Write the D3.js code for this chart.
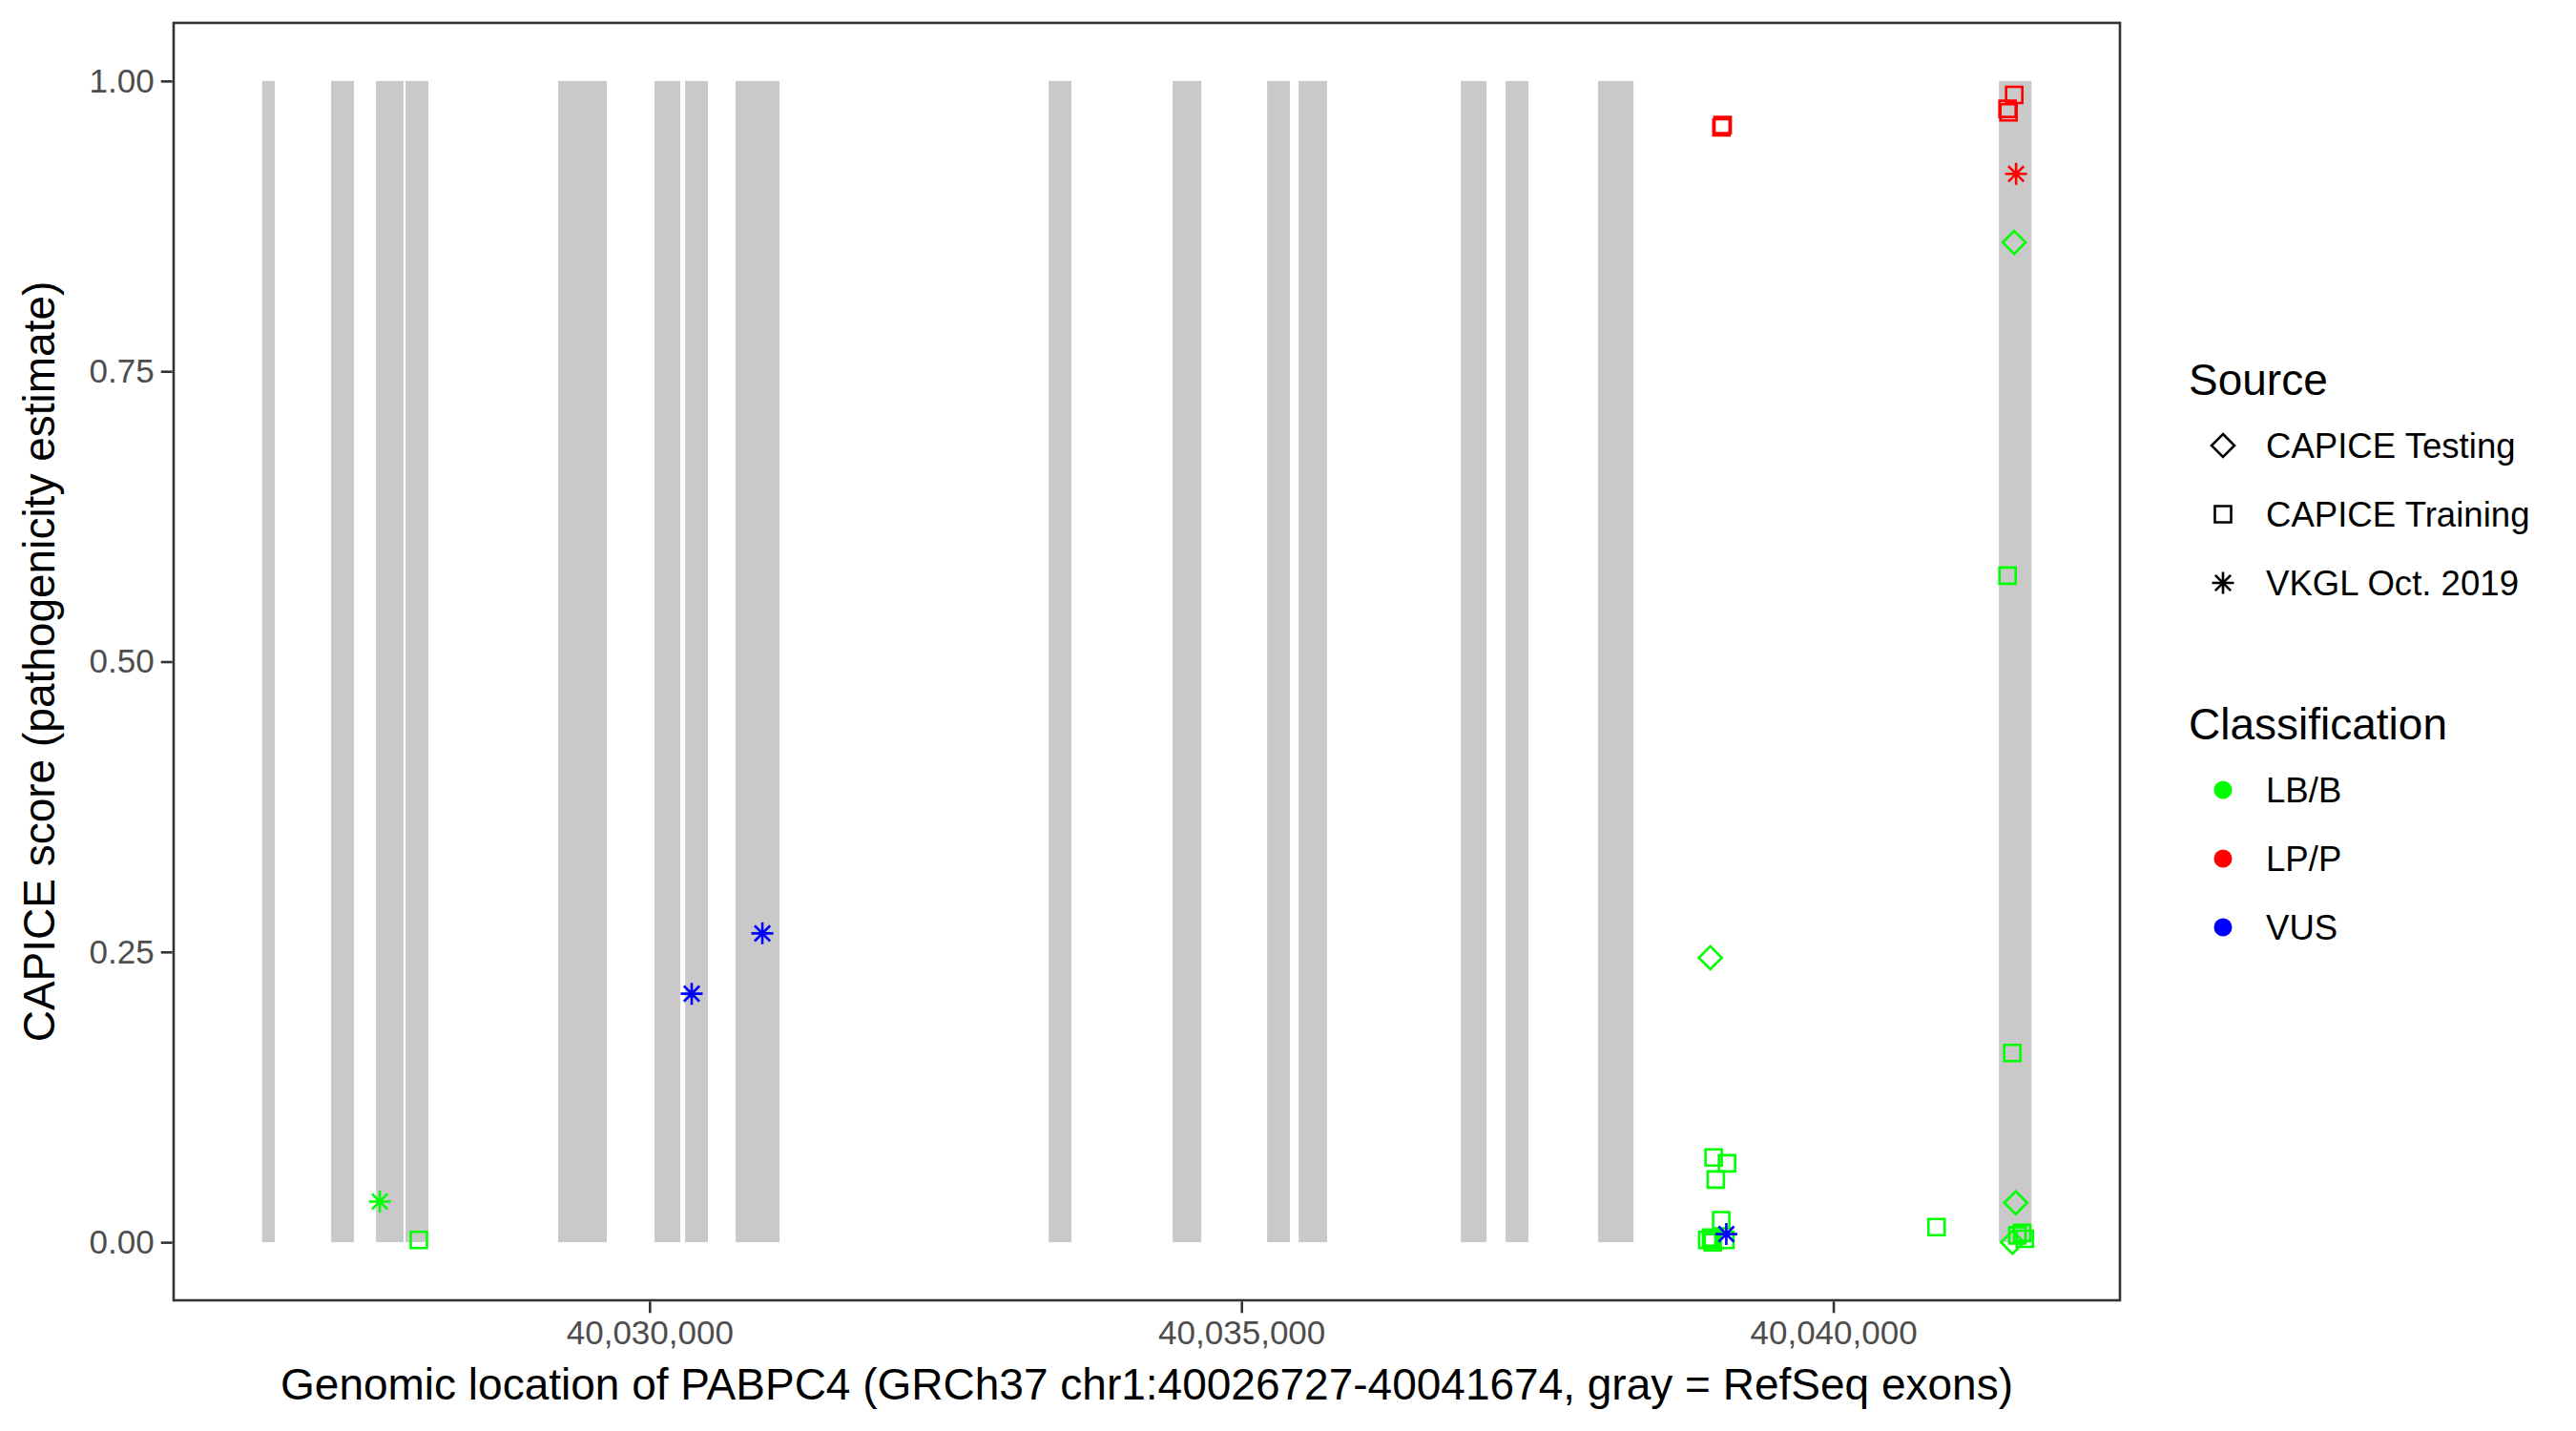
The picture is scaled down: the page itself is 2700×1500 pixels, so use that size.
<!DOCTYPE html>
<html>
<head>
<meta charset="utf-8">
<script src="https://cdn.jsdelivr.net/npm/d3@7"></script>
<style>
  body { margin: 0; background: #fff; }
  text { font-family: "Liberation Sans", Arial, Helvetica, sans-serif; }
</style>
</head>
<body>
<svg id="chart"></svg>
<script>
var width = 2700;
var height = 1500;

// gene + exons (GRCh37 chr1)
var geneStart = 40026727;
var geneEnd = 40041674;
var exonStarts = [40026727, 40027310, 40027689, 40027938, 40029228, 40030042, 40030300, 40030727,
                  40033371, 40034419, 40035217, 40035483, 40036853, 40037232, 40038013, 40041399];
var exonEnds   = [40026834, 40027503, 40027922, 40028132, 40029639, 40030260, 40030493, 40031098,
                  40033564, 40034661, 40035410, 40035724, 40037071, 40037425, 40038312, 40041674];

// variants
var varPos = [40027721, 40028051, 40030356, 40030953,
              40039055, 40039065, 40038961,
              40038989, 40039102, 40039007, 40039053, 40038967, 40038935, 40038981, 40039088, 40039096,
              40040872,
              40041528, 40041472, 40041480, 40041544, 40041528, 40041472, 40041512,
              40041541, 40041514, 40041555, 40041596, 40041618];
var varScore = [0.035, 0.002, 0.214, 0.266,
                0.960, 0.962, 0.245,
                0.073, 0.068, 0.054, 0.019, 0.004, 0.002, 0.000, 0.002, 0.007,
                0.013,
                0.988, 0.976, 0.973, 0.920, 0.861, 0.574, 0.163,
                0.034, 0.000, 0.006, 0.008, 0.003];
var varSource = ["VKGL", "Training", "VKGL", "VKGL",
                 "Training", "Training", "Testing",
                 "Training", "Training", "Training", "Training", "Training", "Training", "Training", "Training", "VKGL",
                 "Training",
                 "Training", "Training", "Training", "VKGL", "Testing", "Training", "Training",
                 "Testing", "Testing", "Training", "Training", "Training"];
var varClass = ["LB/B", "LB/B", "VUS", "VUS",
                "LP/P", "LP/P", "LB/B",
                "LB/B", "LB/B", "LB/B", "LB/B", "LB/B", "LB/B", "LB/B", "LB/B", "VUS",
                "LB/B",
                "LP/P", "LP/P", "LP/P", "LP/P", "LB/B", "LB/B", "LB/B",
                "LB/B", "LB/B", "LB/B", "LB/B", "LB/B"];

var sourceKeys = ["Testing", "Training", "VKGL"];
var sourceLabels = ["CAPICE Testing", "CAPICE Training", "VKGL Oct. 2019"];
var classKeys = ["LB/B", "LP/P", "VUS"];
var classColors = ["#00ff00", "#ff0000", "#0000ff"];
var yTicks = [0, 0.25, 0.5, 0.75, 1];
var xTicks = [40030000, 40035000, 40040000];

var panel = {left: 182, top: 24, right: 2222, bottom: 1363};

var svg = d3.select('#chart')
    .attr('width', width)
    .attr('height', height)

var pad = (geneEnd - geneStart) * 0.05;
var x = d3.scaleLinear()
    .domain([geneStart - pad, geneEnd + pad])
    .range([panel.left, panel.right]);
var y = d3.scaleLinear()
    .domain([-0.05, 1.05])
    .range([panel.bottom, panel.top]);

var color = d3.scaleOrdinal().domain(classKeys).range(classColors);

// shape path for each source (ggplot shapes 5, 0, 8)
function shapePath(src){
    var p = d3.path();
    if (src == "Testing"){
        var r = 12;
        p.moveTo(0, -r); p.lineTo(r, 0); p.lineTo(0, r); p.lineTo(-r, 0); p.closePath();
    }
    else if (src == "Training"){
        var s = 8.5;
        p.rect(-s, -s, 2 * s, 2 * s);
    }
    else {
        var a = 11.5, d = a * 0.7071;
        p.moveTo(-a, 0); p.lineTo(a, 0);
        p.moveTo(0, -a); p.lineTo(0, a);
        p.moveTo(-d, -d); p.lineTo(d, d);
        p.moveTo(-d, d); p.lineTo(d, -d);
    }
    return p.toString();
}

// exons
svg.append('g')
    .selectAll('rect')
    .data(exonStarts)
    .enter()
    .append('rect')
    .attr('x', function(d){ return x(d); })
    .attr('width', function(d, i){ return x(exonEnds[i]) - x(d); })
    .attr('y', y(1))
    .attr('height', y(0) - y(1))
    .style('fill', '#c9c9c9');

// points
svg.append('g')
    .selectAll('path')
    .data(varPos)
    .enter()
    .append('path')
    .attr('transform', function(d, i){ return 'translate(' + x(d) + ',' + y(varScore[i]) + ')'; })
    .attr('d', function(d, i){ return shapePath(varSource[i]); })
    .style('fill', 'none')
    .style('stroke', function(d, i){ return color(varClass[i]); })
    .style('stroke-width', 2.6);

// panel border
svg.append('rect')
    .attr('x', panel.left)
    .attr('y', panel.top)
    .attr('width', panel.right - panel.left)
    .attr('height', panel.bottom - panel.top)
    .style('fill', 'none')
    .style('stroke', '#333333')
    .style('stroke-width', 2.6);

// axes
var yAxis = d3.axisLeft(y).tickValues(yTicks).tickSize(12).tickPadding(7)
    .tickFormat(d3.format('.2f'));
var xAxis = d3.axisBottom(x).tickValues(xTicks).tickSize(12).tickPadding(8)
    .tickFormat(d3.format(','));

var gy = svg.append('g').attr('transform', 'translate(' + (panel.left - 1.3) + ',0)').call(yAxis);
var gx = svg.append('g').attr('transform', 'translate(0,' + (panel.bottom + 1.3) + ')').call(xAxis);
[gy, gx].forEach(function(g){
    g.select('.domain').remove();
    g.selectAll('line').style('stroke', '#333333').style('stroke-width', 2.6);
    g.selectAll('text').style('font-size', '35px').style('fill', '#4d4d4d')
        .style('font-family', '"Liberation Sans", Arial, sans-serif');
});

svg.append('text')
    .attr('x', (panel.left + panel.right) / 2)
    .attr('y', 1467)
    .attr('text-anchor', 'middle')
    .style('font-size', '46px')
    .text('Genomic location of PABPC4 (GRCh37 chr1:40026727-40041674, gray = RefSeq exons)');

svg.append('text')
    .attr('transform', 'translate(57,' + ((panel.top + panel.bottom) / 2) + ') rotate(-90)')
    .attr('text-anchor', 'middle')
    .style('font-size', '46px')
    .text('CAPICE score (pathogenicity estimate)');

// legends
var legX = 2294, keyX = 2330, labX = 2375;

svg.append('text').attr('x', legX).attr('y', 414).style('font-size', '46px').text('Source');
var srcItems = svg.append('g').selectAll('g')
    .data(sourceKeys)
    .enter()
    .append('g')
    .attr('transform', function(d, i){ return 'translate(0,' + (467 + i * 72) + ')'; });
srcItems.append('path')
    .attr('transform', 'translate(' + keyX + ',0)')
    .attr('d', function(d){ return shapePath(d); })
    .style('fill', 'none')
    .style('stroke', 'black')
    .style('stroke-width', 2.6);
srcItems.append('text')
    .attr('x', labX)
    .attr('dy', '0.35em')
    .style('font-size', '36.6px')
    .text(function(d, i){ return sourceLabels[i]; });

svg.append('text').attr('x', legX).attr('y', 775).style('font-size', '46px').text('Classification');
var clsItems = svg.append('g').selectAll('g')
    .data(classKeys)
    .enter()
    .append('g')
    .attr('transform', function(d, i){ return 'translate(0,' + (828 + i * 72) + ')'; });
clsItems.append('circle')
    .attr('cx', keyX)
    .attr('r', 9.5)
    .style('fill', function(d){ return color(d); });
clsItems.append('text')
    .attr('x', labX)
    .attr('dy', '0.35em')
    .style('font-size', '36.6px')
    .text(function(d){ return d; });
</script>
</body>
</html>
